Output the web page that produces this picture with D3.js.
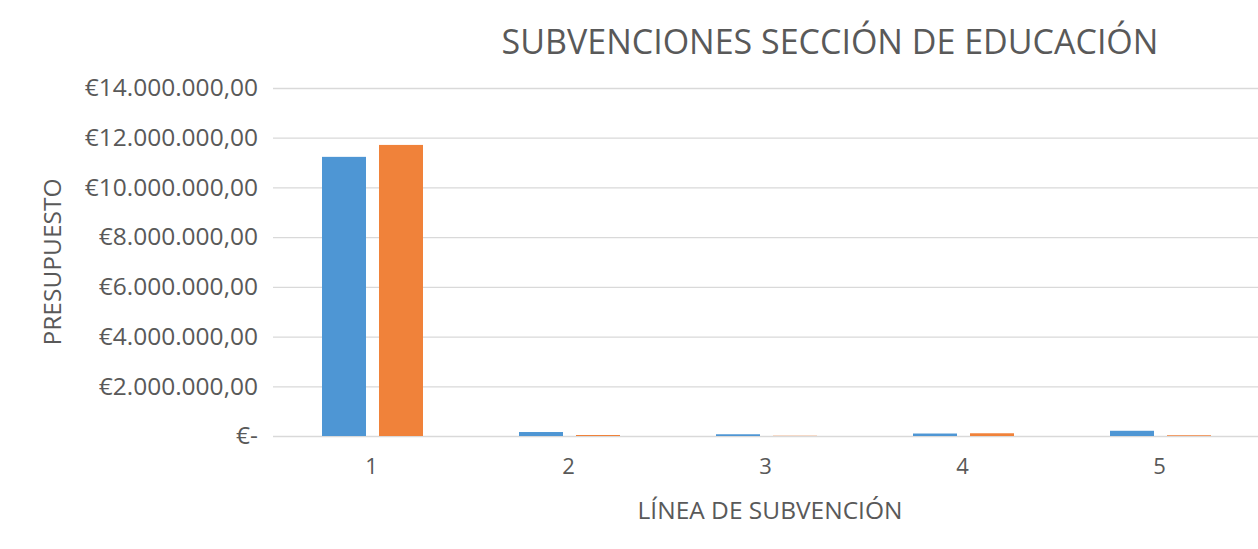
<!DOCTYPE html>
<html>
<head>
<meta charset="utf-8">
<script src="https://cdn.jsdelivr.net/npm/d3@7"></script>
<style>
  body { margin: 0; background: #fff; }
  svg { display: block; font-family: "Open Sans", "Noto Sans", sans-serif; }
  .grid line { stroke: #d9d9d9; stroke-width: 1.3px; }
  .grid .domain { display: none; }
</style>
</head>
<body>
<div id="chart"></div>
<script>
const categories = ["1", "2", "3", "4", "5"];
const seriesA = [11230000, 160000, 70000, 100000, 210000];
const seriesB = [11710000, 40000, 10000, 110000, 30000];
const yTicks = [0, 2000000, 4000000, 6000000, 8000000, 10000000, 12000000, 14000000];
const yTickLabels = ["€-", "€2.000.000,00", "€4.000.000,00", "€6.000.000,00", "€8.000.000,00",
  "€10.000.000,00", "€12.000.000,00", "€14.000.000,00"];

const fullWidth = 1258, fullHeight = 549;
const margin = { top: 88, right: 0, bottom: 113, left: 273 };
const width = fullWidth - margin.left - margin.right;
const height = fullHeight - margin.top - margin.bottom;

const svg = d3.select("#chart").append("svg")
  .attr("width", fullWidth)
  .attr("height", fullHeight);

const chart = svg.append("g")
  .attr("transform", `translate(${margin.left},${margin.top})`);

const x = d3.scaleBand().domain(categories).range([0, width]).paddingInner(0).paddingOuter(0);
// two bars per group, small gap between them
const inner = d3.scaleBand().domain(["a", "b"]).range([49, 49 + 101]).paddingInner(0.228);
const y = d3.scaleLinear().domain([0, 14000000]).range([height, 0]);

// gridlines
chart.append("g").attr("class", "grid")
  .call(d3.axisLeft(y).tickValues(yTicks).tickSize(-width).tickFormat(""))
  .call(g => g.selectAll("text").remove());

// y tick labels
chart.append("g")
  .call(d3.axisLeft(y).tickValues(yTicks).tickSize(0).tickPadding(15)
    .tickFormat((d, i) => yTickLabels[i]))
  .call(g => g.select(".domain").remove())
  .call(g => g.selectAll("text")
    .attr("fill", "#595959")
    .style("font-size", "24.5px")
    .style("font-family", "\"Open Sans\", sans-serif"));

// x tick labels
chart.append("g")
  .attr("transform", `translate(0,${height})`)
  .call(d3.axisBottom(x).tickSize(0).tickPadding(22))
  .call(g => g.select(".domain").remove())
  .call(g => g.selectAll("text")
    .attr("fill", "#595959")
    .style("font-size", "22px")
    .style("font-family", "\"Open Sans\", sans-serif"));

const rows = categories.map((c, i) => ({ cat: c, a: seriesA[i], b: seriesB[i] }));
const colors = { a: "#4e96d4", b: "#f0823a" };

["a", "b"].forEach(k => {
  chart.append("g").selectAll("rect")
    .data(rows)
    .join("rect")
    .attr("x", d => x(d.cat) + inner(k))
    .attr("width", inner.bandwidth())
    .attr("y", d => y(d[k]))
    .attr("height", d => height - y(d[k]))
    .attr("fill", colors[k]);
});

// title
svg.append("text")
  .attr("x", 830)
  .attr("y", 54)
  .attr("text-anchor", "middle")
  .attr("fill", "#595959")
  .style("font-size", "34px")
  .text("SUBVENCIONES SECCIÓN DE EDUCACIÓN");

// axis titles
svg.append("text")
  .attr("transform", "translate(61,262) rotate(-90)")
  .attr("text-anchor", "middle")
  .attr("fill", "#595959")
  .style("font-size", "24.5px")
  .text("PRESUPUESTO");

svg.append("text")
  .attr("x", 770)
  .attr("y", 519)
  .attr("text-anchor", "middle")
  .attr("fill", "#595959")
  .style("font-size", "24.5px")
  .text("LÍNEA DE SUBVENCIÓN");
</script>
</body>
</html>
